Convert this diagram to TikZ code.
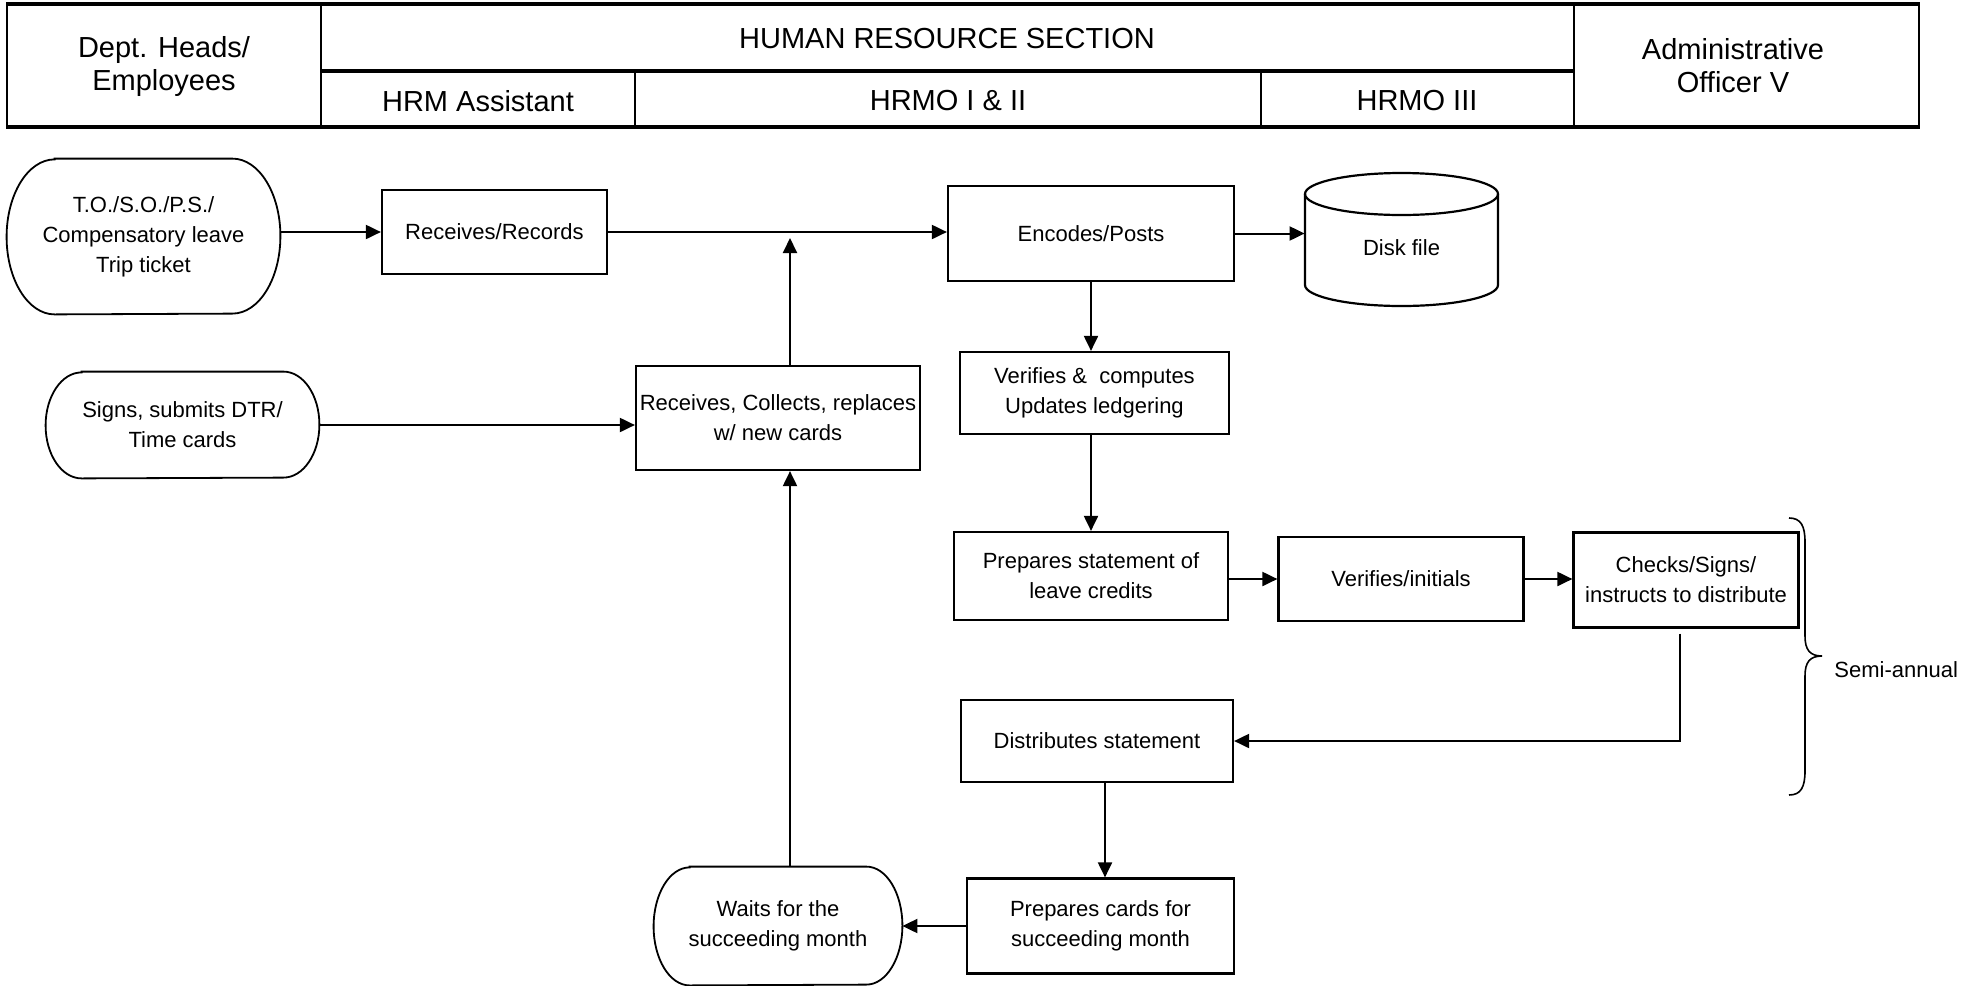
\documentclass[tikz,border=0pt]{standalone}
\usepackage{fontspec}
\setmainfont{Liberation Sans}
\usetikzlibrary{arrows.meta}
\newcommand\bodyfnt{\fontsize{11}{15}\selectfont}
\newcommand\headfnt{\fontsize{14.5}{16.5}\selectfont}
\newcommand\termdraw[3]{\draw[termline] ([xshift=#2]#1.north west) -- ([xshift=-#2]#1.north east) arc[start angle=90,end angle=-90,x radius=#2,y radius=#3] -- ([xshift=#2]#1.south west) arc[start angle=270,end angle=90,x radius=#2,y radius=#3] -- cycle;}
\begin{document}
\begin{tikzpicture}[x=0.5pt,y=-0.5pt,
  proc/.style={draw, line width=1.1pt, inner sep=0pt, align=center, font=\bodyfnt},
  termtext/.style={inner sep=0pt, align=center, font=\bodyfnt},
  termline/.style={line width=0.9pt},
  hdr/.style={inner sep=0pt, align=center, font=\headfnt},
  arr/.style={line width=1pt, -{Triangle[length=7.5pt,width=7pt]}},
  hline/.style={line width=1.8pt},
  vline/.style={line width=1.1pt}]
\useasboundingbox (0,0) rectangle (1967,986);

% ---------- header ----------
\draw[vline] (7,4) -- (7,127) (321,4) -- (321,127) (1574,4) -- (1574,127) (1919,4) -- (1919,127)
  (635,71) -- (635,127) (1261,71) -- (1261,127);
\draw[hline] (6,4) -- (1920,4) (6,127) -- (1920,127) (321,71) -- (1574,71);
\node[hdr] (hdept) at (164,66) {Dept. Heads/\\Employees};
\node[hdr] (hhrs) at (947,39) {HUMAN RESOURCE SECTION};
\node[hdr] (hasst) at (478,101) {HRM Assistant};
\node[hdr] (hmo12) at (948,101) {HRMO I \& II};
\node[hdr] (hmo3) at (1417,101) {HRMO III};
\node[hdr] (hao) at (1733,66) {Administrative\\Officer V};

% ---------- nodes ----------
\node[termtext, minimum width=136.5pt, minimum height=77.5pt] (to) at (143.5,236.5) {T.O./S.O./P.S./\\Compensatory leave\\Trip ticket};
\termdraw{to}{24pt}{38.75pt}
\node[proc, minimum width=112.5pt, minimum height=42pt] (rr) at (494.5,232) {Receives/Records};
\node[proc, minimum width=143pt, minimum height=47.5pt] (enc) at (1091,233.5) {Encodes/Posts};
% disk file cylinder
\draw[line width=1.1pt] (1305,194) -- (1305,285) arc[start angle=180,end angle=360,x radius=48.25pt,y radius=10.5pt] -- (1498,194);
\draw[line width=1.1pt] (1401.5,194) ellipse [x radius=48.25pt, y radius=10.5pt];
\node[termtext, minimum width=96.5pt] (disk) at (1401.5,248) {Disk file};

\node[proc, minimum width=142pt, minimum height=52pt] (rc) at (778,418) {Receives, Collects, replaces\\w/ new cards};
\node[termtext, minimum width=136.5pt, minimum height=53pt] (signs) at (182.5,425) {Signs, submits DTR/\\Time cards};
\termdraw{signs}{18pt}{26.5pt}
\node[proc, minimum width=134.5pt, minimum height=41pt] (ver) at (1094.5,393) {Verifies \&\ \ computes\\Updates ledgering};
\node[proc, minimum width=137pt, minimum height=44pt] (prep) at (1091,576) {Prepares statement of\\leave credits};
\node[proc, minimum width=122.5pt, minimum height=42pt] (vi) at (1401,579) {Verifies/initials};
\node[proc, minimum width=112.5pt, minimum height=47.5pt] (chk) at (1686,580) {Checks/Signs/\\instructs to distribute};
\node[proc, minimum width=136pt, minimum height=41pt] (dist) at (1097,741) {Distributes statement};
\node[proc, minimum width=133.5pt, minimum height=47.5pt] (pc) at (1100.5,926) {Prepares cards for\\succeeding month};
\node[termtext, minimum width=124pt, minimum height=59pt] (wait) at (778,926) {Waits for the\\succeeding month};
\termdraw{wait}{18pt}{29.5pt}

% brace and label
\draw[line width=0.8pt] (1789,518) .. controls (1801,518) and (1805,526) .. (1805,542) -- (1805,636)
  .. controls (1805,650) and (1810,656) .. (1822,656) .. controls (1810,656) and (1805,662) .. (1805,676)
  -- (1805,771) .. controls (1805,787) and (1801,795) .. (1789,795);
\node[termtext, anchor=west] (semi) at (1834,670) {Semi-annual};

% ---------- connectors ----------
\draw[arr] (to.east |- rr.west) -- (rr.west);
\draw[arr] (rr.east) -- (rr.east -| enc.west);
\coordinate (ru) at ([xshift=6pt]rc.north);
\path (ru |- rr.east) coordinate (rumain);
\draw[arr] (ru) -- ([yshift=-3pt]rumain);
\draw[arr] (enc.east) -- (enc.east -| disk.west);
\draw[arr] (enc.south) -- (enc.south |- ver.north);
\draw[arr] (enc.south |- ver.south) -- (enc.south |- prep.north);
\draw[arr] (prep.east |- vi.west) -- (vi.west);
\draw[arr] (vi.east) -- (vi.east -| chk.west);
\coordinate (cd) at ([xshift=-3pt,yshift=-2.5pt]chk.south);
\draw[arr] (cd) |- (dist.east);
\coordinate (dd) at ([xshift=4pt]dist.south);
\draw[arr] (dd) -- (dd |- pc.north);
\draw[arr] (pc.west) -- (pc.west -| wait.east);
\coordinate (wu) at ([xshift=6pt]wait.north);
\draw[arr] (wu) -- (wu |- rc.south);
\draw[arr] (signs.east) -- (signs.east -| rc.west);
\end{tikzpicture}
\end{document}
